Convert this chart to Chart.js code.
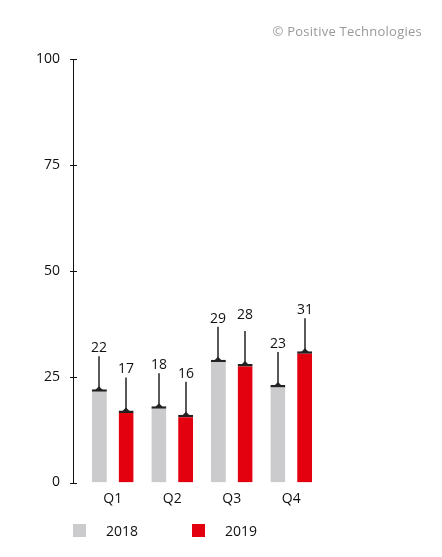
<!DOCTYPE html>
<html>
<head>
<meta charset="utf-8">
<script src="https://cdn.jsdelivr.net/npm/chart.js@4.4.1/dist/chart.umd.min.js"></script>
<style>
  html, body { margin: 0; padding: 0; background: #fff; }
  #wrap { position: relative; width: 442px; height: 557px; font-family: "Open Sans", sans-serif; }
  #chart { position: absolute; left: 0; top: 0; }
  #copy { position: absolute; right: 20px; top: 22px; font-size: 13px; letter-spacing: 0.25px; color: #999; }
  #legend { position: absolute; left: 73px; top: 521px; display: flex; }
  #legend .item { display: flex; align-items: center; width: 119px; font-size: 14px; color: #111; }
  #legend .item i { display: inline-block; width: 13px; height: 13px; margin-right: 20px; }
</style>
</head>
<body>
<div id="wrap">
  <canvas id="chart" width="442" height="557"></canvas>
  <div id="copy">© Positive Technologies</div>
  <div id="legend"></div>
</div>
<script>
  const quarters = ['Q1', 'Q2', 'Q3', 'Q4'];
  const values2018 = [22, 18, 29, 23];
  const values2019 = [17, 16, 28, 31];
  const yMin = 0;
  const yMax = 100;
  const yStep = 25;

  // leader line + value above each bar
  const leaders = {
    id: 'leaders',
    afterDatasetsDraw(chart, args, opts) {
      const ctx = chart.ctx;
      ctx.save();
      chart.data.datasets.forEach((ds, di) => {
        chart.getDatasetMeta(di).data.forEach((bar, i) => {
          const x = Math.round(bar.x);
          const y = bar.y;
          ctx.strokeStyle = opts.color;
          ctx.fillStyle = opts.color;
          ctx.lineWidth = 1.5;
          ctx.beginPath();
          ctx.moveTo(x, y);
          ctx.lineTo(x, y - opts.lineLength);
          ctx.stroke();
          ctx.beginPath();
          ctx.moveTo(x - 4, y + 1);
          ctx.lineTo(x + 4, y + 1);
          ctx.lineTo(x, y - 3);
          ctx.closePath();
          ctx.fill();
          const lift = opts.nudge[di + '-' + i] || 0;
          ctx.fillStyle = '#111';
          ctx.font = '14px "Open Sans"';
          ctx.textAlign = 'center';
          ctx.textBaseline = 'middle';
          ctx.fillText(ds.data[i], x, y - opts.labelGap - lift);
        });
      });
      ctx.restore();
    }
  };

  // y axis line sits a little left of the plot area
  const yAxisLine = {
    id: 'yAxisLine',
    afterDraw(chart, args, opts) {
      const s = chart.scales.y;
      const ctx = chart.ctx;
      const x = Math.round(chart.chartArea.left - opts.gap) + 0.5;
      ctx.save();
      ctx.strokeStyle = '#111';
      ctx.lineWidth = 1;
      ctx.beginPath();
      ctx.moveTo(x, Math.round(s.getPixelForValue(s.max)) + 0.5);
      ctx.lineTo(x, Math.round(s.getPixelForValue(s.min)) + 0.5);
      s.ticks.forEach(t => {
        const py = Math.round(s.getPixelForValue(t.value)) + 0.5;
        ctx.moveTo(x - 3.5, py);
        ctx.lineTo(x + 3.5, py);
      });
      ctx.stroke();
      ctx.restore();
    }
  };

  const chart = new Chart(document.getElementById('chart'), {
    type: 'bar',
    data: {
      labels: quarters,
      datasets: [{
        label: '2018',
        data: values2018,
        backgroundColor: '#cbcacc',
        borderColor: '#222',
        borderWidth: { top: 2.5, left: 0, right: 0, bottom: 0 },
        borderSkipped: 'bottom'
      }, {
        label: '2019',
        data: values2019,
        backgroundColor: '#e3000f',
        borderColor: '#222',
        borderWidth: { top: 2.5, left: 0, right: 0, bottom: 0 },
        borderSkipped: 'bottom'
      }]
    },
    options: {
      responsive: false,
      animation: false,
      categoryPercentage: 0.9,
      barPercentage: 0.56,
      layout: {
        padding: { top: 59, right: 121, bottom: 40, left: 0 }
      },
      plugins: {
        legend: { display: false },
        tooltip: { enabled: false },
        leaders: { color: '#222', lineLength: 33, labelGap: 41, nudge: { '1-2': 8 } },
        yAxisLine: { gap: 10.5 }
      },
      scales: {
        x: {
          grid: { display: false, drawTicks: false },
          border: { display: false },
          ticks: { padding: 8, color: '#111', font: { family: 'Open Sans', size: 14 } },
          afterFit: s => { s.height = 34.5; }
        },
        y: {
          min: yMin,
          max: yMax,
          grid: { display: false, drawTicks: false },
          border: { display: false },
          ticks: { stepSize: yStep, padding: 23, color: '#111', font: { family: 'Open Sans', size: 14 } },
          afterFit: s => { s.width = 83; }
        }
      }
    },
    plugins: [leaders, yAxisLine]
  });

  const legend = document.getElementById('legend');
  chart.data.datasets.forEach(ds => {
    const item = document.createElement('div');
    item.className = 'item';
    const box = document.createElement('i');
    box.style.background = ds.backgroundColor;
    item.appendChild(box);
    item.appendChild(document.createTextNode(ds.label));
    legend.appendChild(item);
  });
</script>
</body>
</html>
